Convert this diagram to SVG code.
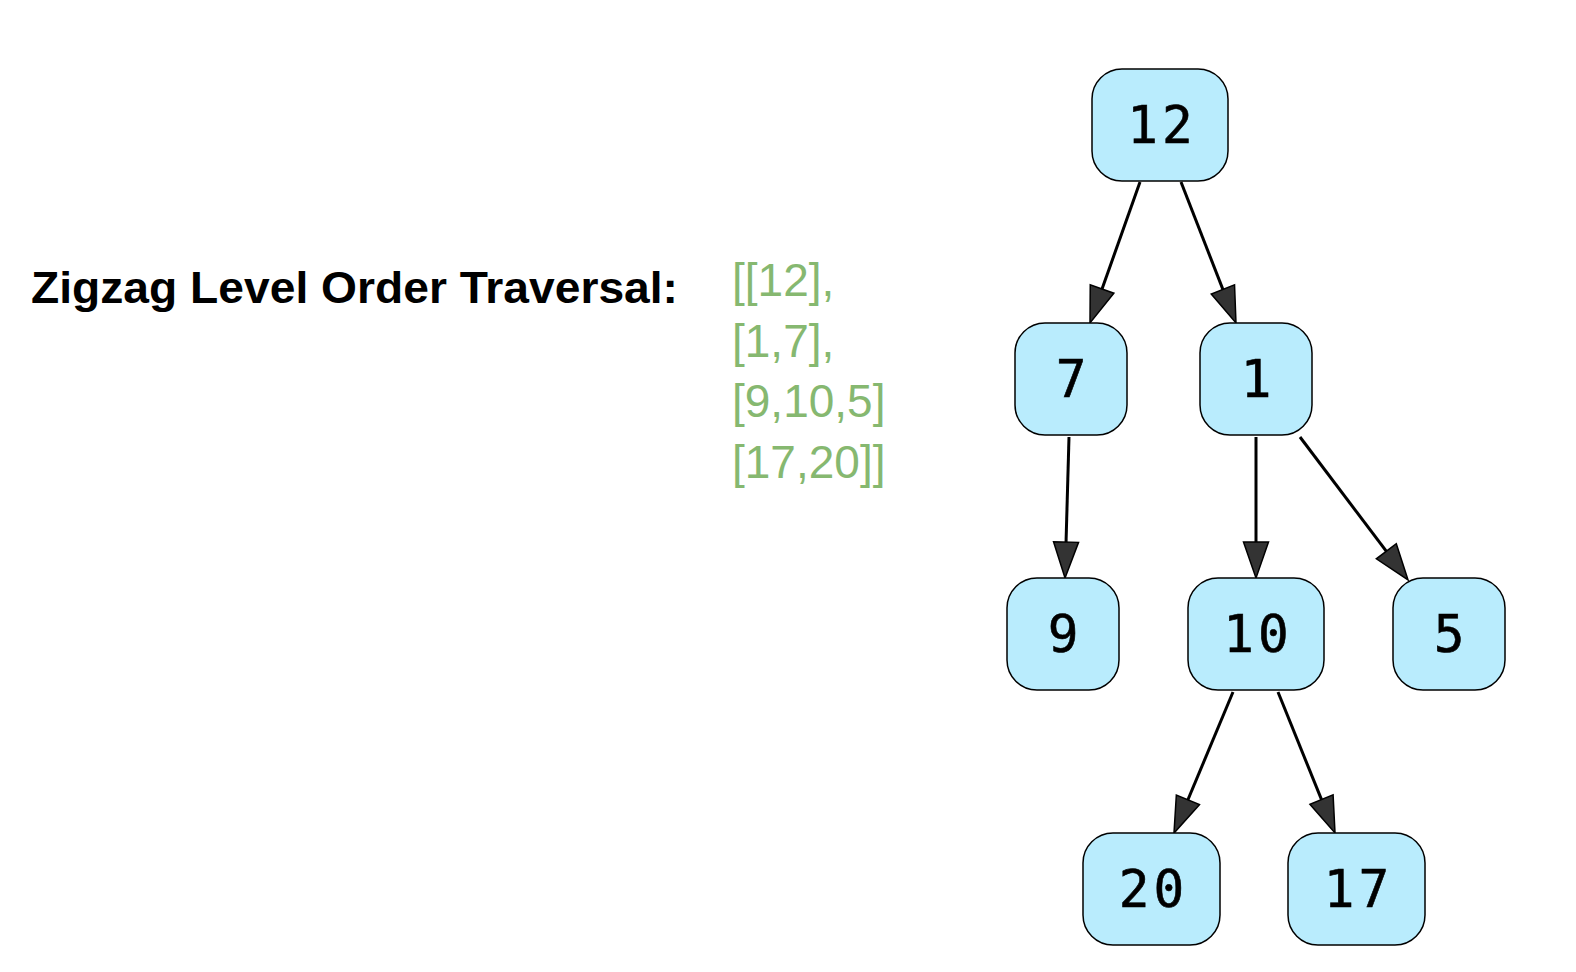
<svg xmlns="http://www.w3.org/2000/svg" width="1576" height="972" viewBox="0 0 1576 972">
  <style>
    .node rect { fill: #b9ecfd; stroke: #000; stroke-width: 1.5; }
    .node text { font-family: "DejaVu Sans Mono", "Liberation Mono", monospace; font-size: 51px; fill: #000; text-anchor: middle; letter-spacing: 4px; stroke: #000; stroke-width: 0.6; }
    .edge { stroke: #000; stroke-width: 3; fill: none; marker-end: url(#arrow); }
    .title { font-family: "Liberation Sans", Arial, Helvetica, sans-serif; font-weight: bold; font-size: 45px; fill: #000; }
    .result { font-family: "Liberation Sans", Arial, Helvetica, sans-serif; font-size: 46px; fill: #86b870; }
  </style>
  <defs>
    <marker id="arrow" markerUnits="userSpaceOnUse" markerWidth="40" markerHeight="30" refX="30" refY="12.5" orient="auto" overflow="visible">
      <path d="M0,0 L36,12.5 L0,25 Z" fill="#333" stroke="#000" stroke-width="1.5" stroke-linejoin="miter"/>
    </marker>
  </defs>
  <rect width="1576" height="972" fill="#fff"/>

  <g id="label-title">
    <text class="title" x="31" y="303" textLength="647" lengthAdjust="spacingAndGlyphs">Zigzag Level Order Traversal:</text>
  </g>
  <g id="label-result">
    <text class="result" x="732" y="296">[[12],</text>
    <text class="result" x="732" y="357">[1,7],</text>
    <text class="result" x="732" y="417">[9,10,5]</text>
    <text class="result" x="732" y="478">[17,20]]</text>
  </g>

  <g id="connectors">
    <line class="edge" x1="1140" y1="182" x2="1092" y2="317.3"/>
    <line class="edge" x1="1181" y1="182" x2="1233.8" y2="317.4"/>
    <line class="edge" x1="1069" y1="437" x2="1065.2" y2="572"/>
    <line class="edge" x1="1256" y1="437" x2="1256" y2="572"/>
    <line class="edge" x1="1300" y1="437" x2="1404.4" y2="575.2"/>
    <line class="edge" x1="1233" y1="692" x2="1176.3" y2="827.5"/>
    <line class="edge" x1="1278" y1="692" x2="1332.75" y2="827.4"/>
  </g>

  <g id="node-12" class="node">
    <rect x="1092" y="69" width="136" height="112" rx="30" ry="30"/>
    <text x="1162" y="143">12</text>
  </g>
  <g id="node-7" class="node">
    <rect x="1015" y="323" width="112" height="112" rx="30" ry="30"/>
    <text x="1073" y="397">7</text>
  </g>
  <g id="node-1" class="node">
    <rect x="1200" y="323" width="112" height="112" rx="30" ry="30"/>
    <text x="1258" y="397">1</text>
  </g>
  <g id="node-9" class="node">
    <rect x="1007" y="578" width="112" height="112" rx="30" ry="30"/>
    <text x="1065" y="652">9</text>
  </g>
  <g id="node-10" class="node">
    <rect x="1188" y="578" width="136" height="112" rx="30" ry="30"/>
    <text x="1258" y="652">10</text>
  </g>
  <g id="node-5" class="node">
    <rect x="1393" y="578" width="112" height="112" rx="30" ry="30"/>
    <text x="1451" y="652">5</text>
  </g>
  <g id="node-20" class="node">
    <rect x="1083" y="833" width="137" height="112" rx="30" ry="30"/>
    <text x="1153.5" y="907">20</text>
  </g>
  <g id="node-17" class="node">
    <rect x="1288" y="833" width="137" height="112" rx="30" ry="30"/>
    <text x="1358.5" y="907">17</text>
  </g>
</svg>
